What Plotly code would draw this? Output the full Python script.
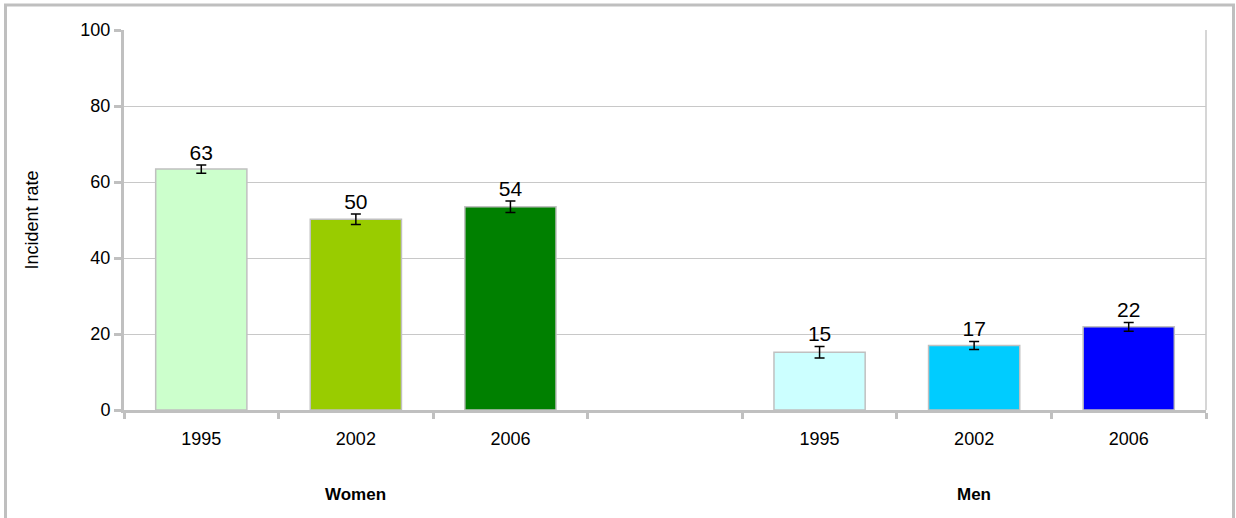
import plotly.graph_objects as go

# Data
categories = ["1995", "2002", "2006", " ", "1995 ", "2002 ", "2006 "]
tick_labels = ["1995", "2002", "2006", "", "1995", "2002", "2006"]
women_values = [63.4, 50.2, 53.5]
women_errors = [1.1, 1.4, 1.5]
men_values = [15.2, 17.0, 21.9]
men_errors = [1.5, 1.05, 1.15]
women_labels = ["63", "50", "54"]
men_labels = ["15", "17", "22"]
women_colors = ["#CCFFCC", "#99CC00", "#008000"]
men_colors = ["#CCFFFF", "#00CCFF", "#0000FF"]
group_names = ["Women", "Men"]

values = women_values + [None] + men_values
errors = women_errors + [0] + men_errors
colors = women_colors + ["#FFFFFF"] + men_colors
labels = women_labels + [""] + men_labels

W, H = 1236, 518
ml, mr, mt, mb = 124, 30, 30, 108
pw, ph = W - ml - mr, H - mt - mb

fig = go.Figure()
fig.add_trace(go.Bar(
    x=categories, y=values,
    marker=dict(color=colors, line=dict(color="#C0C0C0", width=1.5)),
    error_y=dict(type="data", array=errors, visible=True, color="#000000",
                 thickness=1.5, width=5),
    showlegend=False, hoverinfo="x+y",
))
label_y = [(v + e) if v is not None else None for v, e in zip(values, errors)]
fig.add_trace(go.Scatter(
    x=categories, y=label_y, mode="text", text=labels,
    textposition="top center",
    textfont=dict(family="Liberation Sans, Arial", size=21, color="#000000"),
    showlegend=False, hoverinfo="skip", cliponaxis=False,
))

fig.update_layout(
    width=W, height=H,
    margin=dict(l=ml, r=mr, t=mt, b=mb),
    paper_bgcolor="#FFFFFF", plot_bgcolor="#FFFFFF",
    bargap=0.41,
    font=dict(family="Liberation Sans, Arial", size=18, color="#000000"),
    xaxis=dict(
        type="category", categoryorder="array", categoryarray=categories,
        tickmode="array", tickvals=categories, ticktext=tick_labels,
        tickson="boundaries", ticks="outside", ticklen=6, tickwidth=3,
        tickcolor="#C0C0C0", showline=True, linecolor="#C0C0C0", linewidth=3,
        showgrid=False, tickfont=dict(size=18), range=[-0.5, 6.5],
        ticklabelstandoff=10, fixedrange=True,
    ),
    yaxis=dict(
        range=[0, 100], tickvals=[0, 20, 40, 60, 80, 100],
        ticks="outside", ticklen=7, tickwidth=3, tickcolor="#C0C0C0",
        showline=True, linecolor="#C0C0C0", linewidth=3,
        showgrid=True, gridcolor="#C8C8C8", gridwidth=1, zeroline=False,
        tickfont=dict(size=18),
        title=dict(text="Incident rate", font=dict(size=18), standoff=38),
    ),
)

# Right edge of plot area
fig.add_shape(type="line", xref="paper", yref="paper", x0=1, x1=1, y0=0, y1=1,
              line=dict(color="#C8C8C8", width=1.5))

# Outer figure border
def px_x(p):
    return (p - ml) / pw

def px_y(p):
    return (H - mb - p) / ph

fig.add_shape(type="rect", xref="paper", yref="paper",
              x0=px_x(5.5), x1=px_x(1233.5), y0=px_y(540), y1=px_y(5),
              line=dict(color="#BFBFBF", width=3), fillcolor="rgba(0,0,0,0)",
              layer="below")

# Group labels (centred under the middle category of each group)
fig.add_annotation(x=1, y=px_y(495), xref="x", yref="paper",
                   text="<b>" + group_names[0] + "</b>", showarrow=False,
                   font=dict(size=17), yanchor="middle")
fig.add_annotation(x=5, y=px_y(495), xref="x", yref="paper",
                   text="<b>" + group_names[1] + "</b>", showarrow=False,
                   font=dict(size=17), yanchor="middle")

fig.write_html("out.html", config={"displayModeBar": False},
               post_script="document.body.style.margin='0';")
